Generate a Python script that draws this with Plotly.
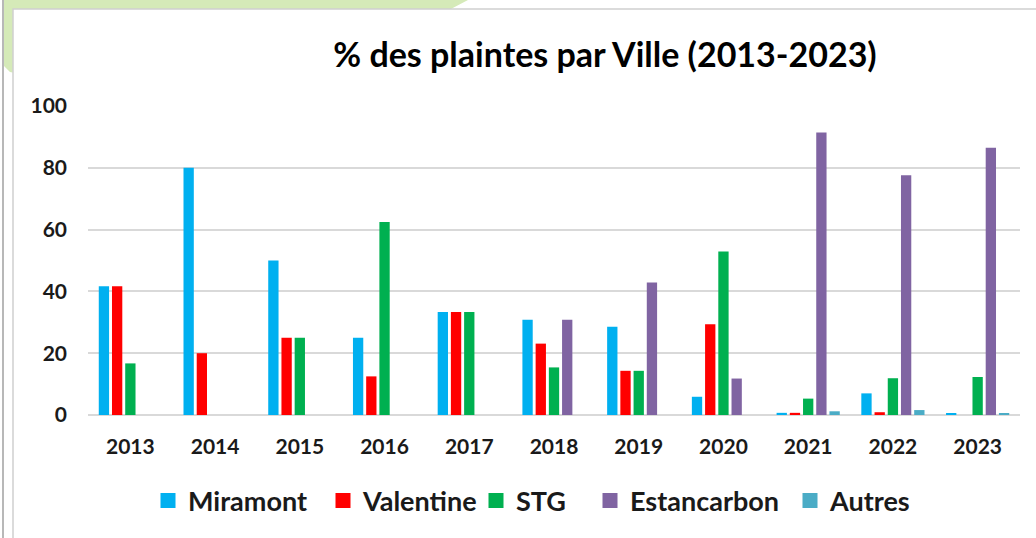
import plotly.graph_objects as go

years = ["2013", "2014", "2015", "2016", "2017", "2018", "2019", "2020", "2021", "2022", "2023"]
miramont = [41.7, 80, 50, 25, 33.3, 30.8, 28.6, 5.9, 0.7, 7.0, 0.5]
valentine = [41.7, 20, 25, 12.5, 33.3, 23.1, 14.3, 29.4, 0.7, 0.9, 0]
stg = [16.7, 0, 25, 62.5, 33.3, 15.4, 14.3, 52.9, 5.3, 11.9, 12.3]
estancarbon = [0, 0, 0, 0, 0, 30.8, 42.9, 11.8, 91.4, 77.6, 86.5]
autres = [0, 0, 0, 0, 0, 0, 0, 0, 1.2, 1.6, 0.5]

series = [
    ("Miramont", miramont, "#00B0F0"),
    ("Valentine", valentine, "#FF0000"),
    ("STG", stg, "#00B050"),
    ("Estancarbon", estancarbon, "#8064A2"),
    ("Autres", autres, "#4BACC6"),
]
legend_text_px = [188, 363, 516, 630, 830]

W, H = 1036, 538
L, R, T, B = 88, 1020, 106, 415

def px2x(px):
    return (px - L) / (R - L)

def py2y(py):
    return (B - py) / (B - T)

fig = go.Figure()
legends = {}
for i, (name, vals, col) in enumerate(series):
    key = "legend" if i == 0 else f"legend{i + 1}"
    fig.add_trace(go.Bar(x=years, y=vals, name=name, marker_color=col,
                         marker_line_width=0, showlegend=False))
    fig.add_trace(go.Scatter(x=[None], y=[None], mode="markers", name=name,
                             marker=dict(symbol="square", size=15, color=col),
                             legend=key, showlegend=True))
    legends[key] = dict(orientation="h", x=px2x(legend_text_px[i] - 40), xanchor="left",
                        y=py2y(501), yanchor="middle",
                        font=dict(size=27, weight="bold", color="#1a1a1a"),
                        itemsizing="trace", itemwidth=30,
                        bgcolor="rgba(0,0,0,0)", borderwidth=0)

shapes = [
    dict(type="path", xref="paper", yref="paper", layer="below",
         path=f"M {px2x(4)},{py2y(0)} L {px2x(468)},{py2y(0)} L {px2x(430)},{py2y(20)} "
              f"L {px2x(80)},{py2y(55)} L {px2x(20)},{py2y(74)} L {px2x(10)},{py2y(72)} "
              f"L {px2x(4)},{py2y(66)} Z",
         fillcolor="#D5EAB8", line=dict(width=0)),
    dict(type="rect", xref="paper", yref="paper", layer="below",
         x0=px2x(13), x1=px2x(1040), y0=py2y(9), y1=py2y(545),
         fillcolor="white", line=dict(color="#D0D0D0", width=1.5)),
    dict(type="line", xref="paper", yref="paper", layer="below",
         x0=px2x(3), x1=px2x(3), y0=py2y(0), y1=py2y(538),
         line=dict(color="#A0A0A0", width=1.5)),
]

fig.update_layout(
    width=W, height=H,
    margin=dict(l=L, r=W - R, t=T, b=H - B, autoexpand=False),
    paper_bgcolor="white", plot_bgcolor="rgba(0,0,0,0)",
    barmode="group", bargap=0.22, bargroupgap=0.22,
    title=dict(text="<b>% des plaintes par Ville (2013-2023)</b>",
               x=605 / W, xanchor="center",
               y=1 - 55 / H, yanchor="middle",
               font=dict(family="Lato", size=34, color="#000000")),
    font=dict(family="Lato", color="#1a1a1a"),
    xaxis=dict(type="category", showgrid=False, showline=False, zeroline=False,
               tickfont=dict(size=21, weight="bold", color="#1a1a1a"), ticks="",
               ticklabelstandoff=17),
    yaxis=dict(range=[0, 100], tickvals=[0, 20, 40, 60, 80, 100],
               showgrid=True, gridcolor="#D9D9D9", gridwidth=1.5,
               zeroline=True, zerolinecolor="#D9D9D9", zerolinewidth=1.5,
               tickfont=dict(size=21, weight="bold", color="#1a1a1a"),
               ticklabelstandoff=20),
    shapes=shapes,
    showlegend=True,
    **legends,
)

fig.write_html("out.html", config={"displayModeBar": False},
               post_script="document.body.style.margin='0';document.body.style.padding='0';")
